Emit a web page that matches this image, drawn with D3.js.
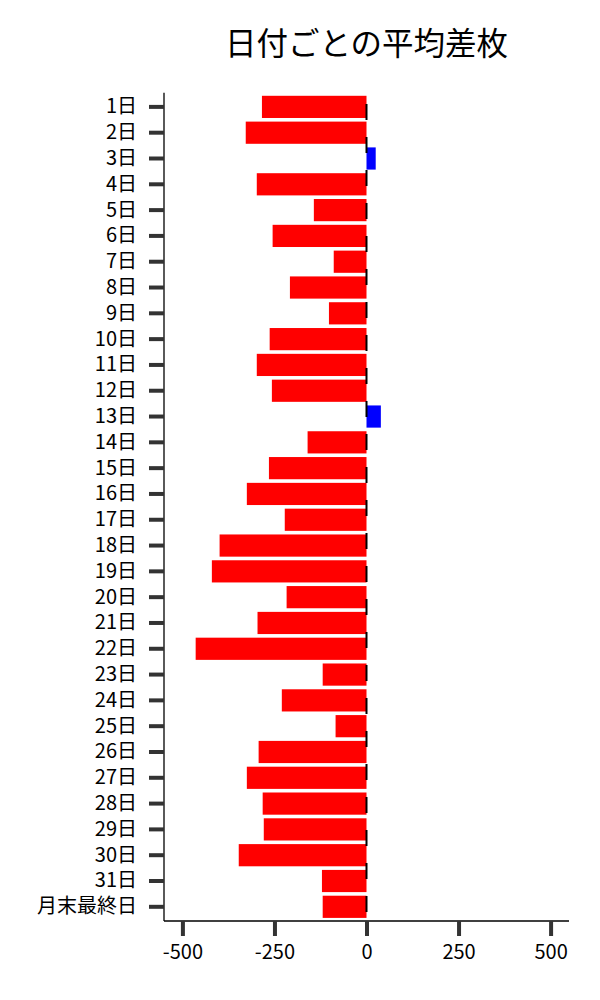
<!DOCTYPE html>
<html>
<head>
<meta charset="utf-8">
<script src="https://cdn.jsdelivr.net/npm/d3@7"></script>
<style>
  body { margin: 0; background: #fff; }
  svg { display: block; font-family: "Noto Sans CJK JP", "Noto Sans", sans-serif; }
</style>
</head>
<body>
<div id="vis"></div>
<script>
const days = ['1日', '2日', '3日', '4日', '5日', '6日', '7日', '8日', '9日', '10日',
  '11日', '12日', '13日', '14日', '15日', '16日', '17日', '18日', '19日', '20日',
  '21日', '22日', '23日', '24日', '25日', '26日', '27日', '28日', '29日', '30日',
  '31日', '月末最終日'];

const avgDiff = [-284, -328, 25, -298, -143, -255, -89, -208, -102, -263,
  -298, -257, 39, -160, -265, -325, -222, -399, -420, -217,
  -296, -464, -119, -230, -84, -293, -325, -282, -279, -347,
  -121, -119];

const xTicks = [-500, -250, 0, 250, 500];

const title = '日付ごとの平均差枚';

const margin = {top: 92.7, right: 31, bottom: 79, left: 164};
const width = 600 - margin.left - margin.right;
const height = 1000 - margin.top - margin.bottom;

const svg = d3.select('#vis').append('svg')
    .attr('width', 600)
    .attr('height', 1000);

const g = svg.append('g')
    .attr('transform', `translate(${margin.left}, ${margin.top})`);

const x = d3.scaleLinear()
    .domain([-550, 550])
    .range([0, width]);

const y = d3.scaleBand()
    .domain(days)
    .range([0, height])
    .paddingInner(0.14)
    .paddingOuter(0.12);

// bars
g.selectAll('rect')
  .data(days.map((d, i) => ({day: d, value: avgDiff[i]})))
  .join('rect')
    .attr('x', d => x(Math.min(0, d.value)))
    .attr('width', d => Math.abs(x(d.value) - x(0)))
    .attr('y', d => y(d.day))
    .attr('height', y.bandwidth())
    .attr('fill', d => d.value < 0 ? '#ff0000' : '#0000ff');

// dashed zero line
g.append('line')
    .attr('x1', x(0))
    .attr('x2', x(0))
    .attr('y1', 0)
    .attr('y2', height)
    .attr('stroke', '#000')
    .attr('stroke-width', 2)
    .attr('stroke-dasharray', '16,17')
    .attr('stroke-dashoffset', 21.7);

// axes
const yAxis = g.append('g')
    .call(d3.axisLeft(y).tickSize(15).tickPadding(12).tickSizeOuter(0));

const xAxis = g.append('g')
    .attr('transform', `translate(0, ${height})`)
    .call(d3.axisBottom(x).tickValues(xTicks).tickFormat(d => String(d))
      .tickSize(15).tickPadding(9).tickSizeOuter(0));

[yAxis, xAxis].forEach(a => {
  a.select('.domain').attr('stroke', '#000').attr('stroke-width', 1.3);
  a.selectAll('.tick line').attr('stroke', '#333').attr('stroke-width', 4);
  a.selectAll('.tick text')
      .attr('fill', '#000')
      .style('font-size', '20px')
      .style('font-family', '"Noto Sans CJK JP", sans-serif');
});

// replace the domain paths so they start exactly at the plot corners
yAxis.select('.domain').attr('d', `M0,0V${height}`);
xAxis.select('.domain').attr('d', `M0,0H${width}`);

svg.append('text')
    .attr('x', margin.left + width / 2)
    .attr('y', 55)
    .attr('text-anchor', 'middle')
    .style('font-size', '31.5px')
    .attr('fill', '#000')
    .text(title);
</script>
</body>
</html>
